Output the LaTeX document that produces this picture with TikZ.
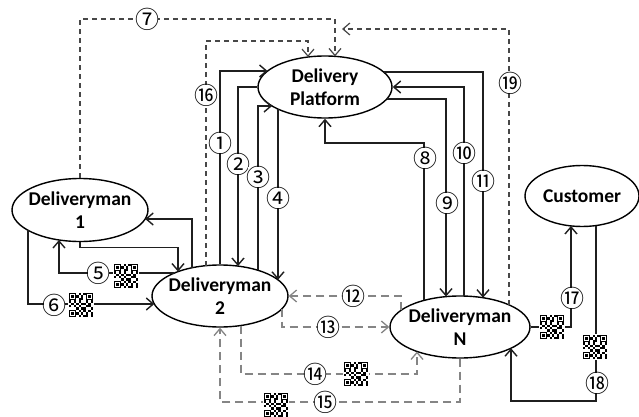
\documentclass[tikz,border=0pt]{standalone}
\usepackage{fontspec}
\setmainfont{Carlito}
\newfontfamily\circfont{Noto Sans CJK JP}
\usetikzlibrary{shapes.geometric,arrows.meta,calc}
\tikzset{
  ell/.style={draw, ellipse, line width=1.4pt, inner sep=0pt},
  lbl/.style={font=\bfseries\fontsize{19.5}{23}\selectfont, align=center, inner sep=0pt},
  num/.style={font=\circfont\fontsize{24}{24}\selectfont, fill=white, inner sep=-1.5pt},
  arr/.style={-{Straight Barb[length=7pt,width=12pt]}},
  sline/.style={line width=1.4pt, draw=black!88},
  ddash/.style={line width=1.2pt, draw=black!72, dash pattern=on 5pt off 4pt},
  gdash/.style={line width=1.3pt, draw=black!48, dash pattern=on 8pt off 5pt},
  qr/.pic={
    \fill[white] (-13,-13) rectangle (13,13);
    \foreach \a/\b in {-12/-12,4.8/-12,-12/4.8}{
      \draw[line width=1.3pt] ({\a+0.65},{\b+0.65}) rectangle ++(5.9,5.9);
      \fill ({\a+2.4},{\b+2.4}) rectangle ++(2.4,2.4);
    }
    \foreach \i/\j in {4/0,6/0,3/1,5/1,4/2,5/2,0/3,2/3,4/3,7/3,9/3,1/4,3/4,5/4,6/4,8/4,0/5,2/5,4/5,7/5,8/5,3/6,5/6,6/6,9/6,4/7,6/7,8/7,3/8,5/8,7/8,9/8,4/9,6/9,7/9,9/9}{
      \fill ({-12+2.4*\i},{-12+2.4*\j}) rectangle ++(2.4,2.4);
    }
  }
}
\begin{document}
\begin{tikzpicture}[x=1pt,y=-1pt]
\useasboundingbox (0,0) rectangle (639,417);
% nodes
\node[ell, minimum width=134pt, minimum height=62pt] (dp) at (325,87) {};
\node[ell, minimum width=136pt, minimum height=63pt] (d1) at (80,210) {};
\node[ell, minimum width=136pt, minimum height=62pt] (d2) at (220,296) {};
\node[ell, minimum width=140pt, minimum height=62pt] (dn) at (460,327) {};
\node[ell, minimum width=114pt, minimum height=61pt] (c) at (582,196) {};
\node[lbl] (dpt) at (dp) {Delivery\\Platform};
\node[lbl] (d1t) at (d1) {Deliveryman\\1};
\node[lbl] (d2t) at (d2) {Deliveryman\\2};
\node[lbl] (dnt) at (dn) {Deliveryman\\N};
\node[lbl] (ct) at (c) {Customer};
% border points (offsets from the node centres)
\coordinate (dp7)  at ($(dp)+(10,-30.65)$);
\coordinate (dp16) at ($(dp)+(-17,-30)$);
\coordinate (dp1)  at ($(dp)+(-57.4,-16)$);
\coordinate (dp3)  at ($(dp)+(-52.9,19)$);
\coordinate (dp4)  at ($(dp)+(-47,22.1)$);
\coordinate (dp9)  at ($(dp)+(61.8,12)$);
\coordinate (dp11) at ($(dp)+(58.6,-15)$);
\coordinate (d2a)  at ($(d2)+(-14,-30.34)$);
\coordinate (d2b)  at ($(d2)+(18,-29.9)$);
\coordinate (d2c)  at ($(d2)+(38,-25.7)$);
\coordinate (d2d)  at ($(d2)+(58,-16.2)$);
\coordinate (d2e)  at ($(d2)+(-28,-28.25)$);
\coordinate (d2f)  at ($(d2)+(-42,-24.4)$);
\coordinate (d2g)  at ($(d2)+(-45.6,-23)$);
\coordinate (d2h)  at ($(d2)+(-65.7,8)$);
\coordinate (d2i)  at ($(d2)+(62,12.7)$);
\coordinate (d2j)  at ($(d2)+(21,29.5)$);
\coordinate (d1a)  at ($(d1)+(65.2,9)$);
\coordinate (d1b)  at ($(d1)+(-21,29.96)$);
\coordinate (d1c)  at ($(d1)+(-52,20.3)$);
\coordinate (dna)  at ($(dn)+(49,-22.1)$);
\coordinate (dnb)  at ($(dn)+(-36,-26.6)$);
\coordinate (dnc)  at ($(dn)+(-14,-30.4)$);
\coordinate (dnd)  at ($(dn)+(4,-30.9)$);
\coordinate (dne)  at ($(dn)+(23,-29.3)$);
\coordinate (dnf)  at ($(dn)+(-59,-16.7)$);
\coordinate (dng)  at ($(dn)+(-43,24.5)$);
\coordinate (dnh)  at ($(dn)+(51,21.2)$);
\coordinate (ca)   at ($(c)+(-11,29.9)$);
\coordinate (cb)   at ($(c)+(14,29.6)$);
% bends
\coordinate (t7) at (200,19);
\coordinate (t16) at (250,41);
\coordinate (e19) at (342,29);
\coordinate (t8) at (400,143);
\coordinate (b14) at (300,374);
\coordinate (b15) at (300,402);
\coordinate (b18) at (550,401);
% dark dashed
\draw[ddash,arr] (d1.north) |- (t7) -| (dp7);
\draw[ddash,arr] (d2a) |- (t16) -| (dp16);
\draw[ddash,arr] (dna) |- (e19);
% D2 <-> platform
\draw[sline,arr] (d2.north) |- (dp1);
\draw[sline,arr] (dp.west) -| (d2b);
\draw[sline,arr] (d2c) |- (dp3);
\draw[sline,arr] (dp4) -- (d2d);
% D1 <-> D2
\draw[sline,arr] (d2e) |- (d1a);
\draw[sline,arr] (d1.south) -- ([yshift=-5pt]d1.south) -| (d2f);
\draw[sline,arr] (d2g) -| (d1b);
\draw[sline,arr] (d1c) |- (d2h);
% platform <-> N
\draw[sline,arr] (dnb) |- (t8) -| (dp.south);
\draw[sline,arr] (dp9) -| (dnc);
\draw[sline,arr] (dnd) |- (dp.east);
\draw[sline,arr] (dp11) -| (dne);
% D2 <-> N
\draw[gdash,arr] (dnf) |- (d2.east);
\draw[gdash,arr] (d2i) |- (dn.west);
\draw[gdash,arr] (d2j) |- (b14) -| (dng);
\draw[gdash,arr] (dn.south) |- (b15) -| (d2.south);
% customer
\draw[sline,arr] (dn.east) -| (ca);
\draw[sline,arr] (cb) |- (b18) -| (dnh);
% QR codes
\pic at (126,276) {qr};
\pic at (81,305) {qr};
\pic at (356,374) {qr};
\pic at (276,405) {qr};
\pic at (552,327) {qr};
\pic at (595,347) {qr};
% labels
\node[num] (n1) at (220,143) {①};
\node[num] (n2) at (238,164) {②};
\node[num] (n3) at (258,177) {③};
\node[num] (n4) at (278,198) {④};
\node[num] (n5) at (98,273) {⑤};
\node[num] (n6) at (54,305) {⑥};
\node[num] (n7) at (147,19) {⑦};
\node[num] (n8) at (425,158) {⑧};
\node[num] (n9) at (447,203) {⑨};
\node[num] (n10) at (464,153) {⑩};
\node[num] (n11) at (483,181) {⑪};
\node[num] (n12) at (353,296) {⑫};
\node[num] (n13) at (328,327) {⑬};
\node[num] (n14) at (315,374) {⑭};
\node[num] (n15) at (325,402) {⑮};
\node[num] (n16) at (206,95) {⑯};
\node[num] (n17) at (572,298) {⑰};
\node[num] (n18) at (597,383) {⑱};
\node[num] (n19) at (510,83) {⑲};
\end{tikzpicture}
\end{document}
